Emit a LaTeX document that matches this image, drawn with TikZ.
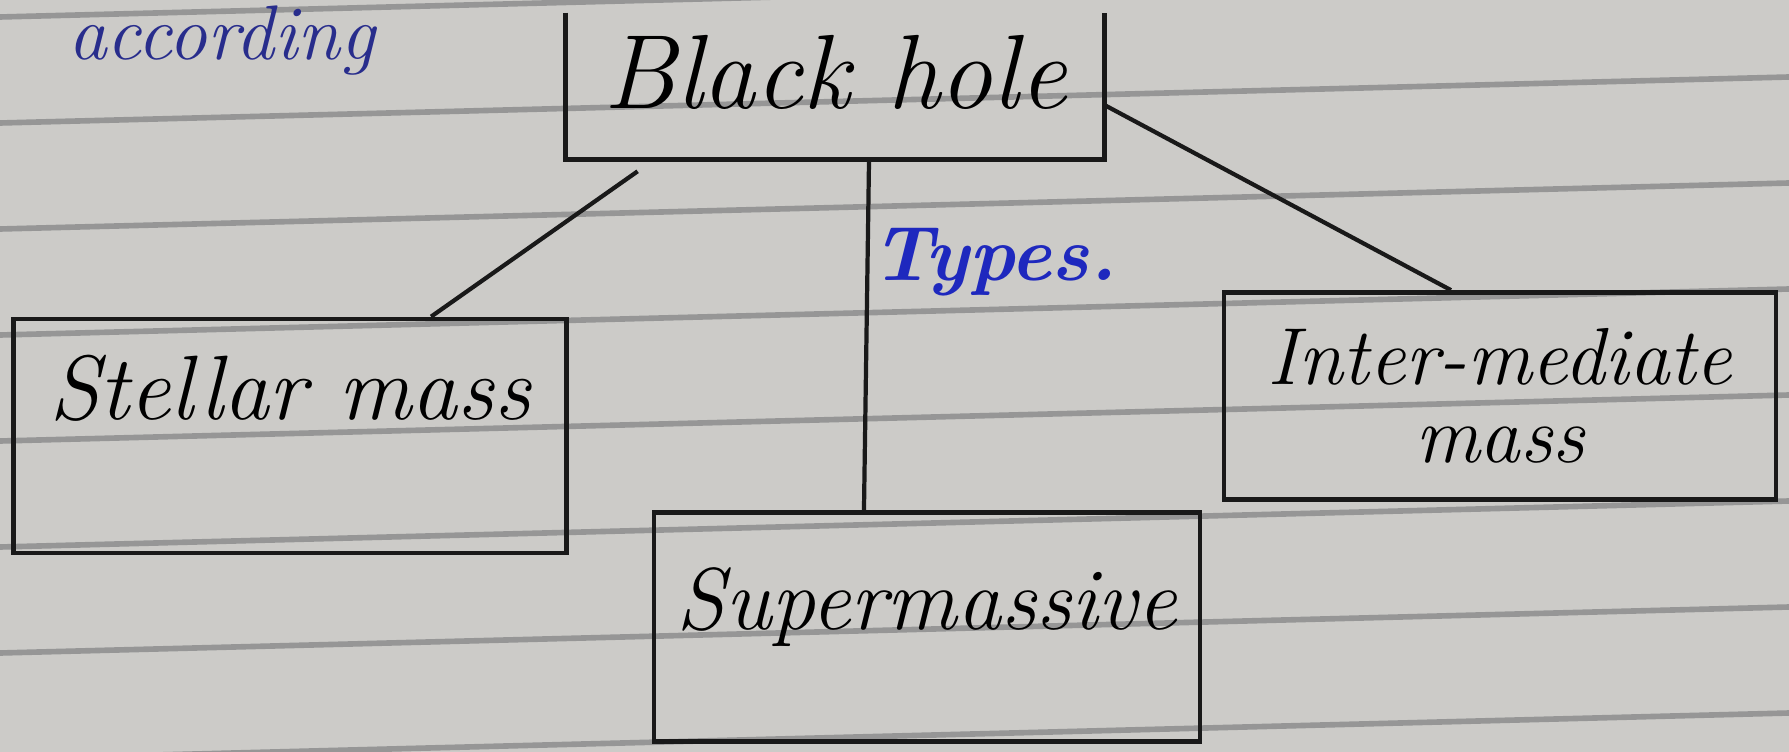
\documentclass[tikz,border=0pt]{standalone}
\usetikzlibrary{positioning}

\definecolor{paper}{RGB}{204,203,200}
\definecolor{rule}{RGB}{150,150,150}
\definecolor{ink}{RGB}{25,25,25}
\definecolor{blueink}{RGB}{30,40,190}
\definecolor{navyink}{RGB}{40,45,140}

\begin{document}
\begin{tikzpicture}[
    x=0.01cm, y=-0.01cm,
    line width=1.3pt,
    box/.style={draw=ink, inner sep=0pt, font=\fontsize{26}{20}\selectfont\itshape, align=center},
    link/.style={draw=ink, line width=1.2pt}
]

% ── Paper and ruled lines ──────────────────────────────────
\useasboundingbox (0,0) rectangle (1789,752);
\fill[paper] (0,0) rectangle (1789,752);
\clip (0,0) rectangle (1789,752);
\foreach \k in {0,...,7}
    \draw[rule, line width=1.6pt] (0,17+106*\k) -- (1789,-29+106*\k);

% ── Top box (open at the top) ──────────────────────────────
\node[box, draw=none, minimum width=5.34cm, text height=0.93cm, text depth=0.49cm,
      font=\fontsize{30}{36}\selectfont\itshape] (blackhole) at (835,86) {Black hole};
\draw[ink] (blackhole.north west) -- (blackhole.south west)
    -- (blackhole.south east) -- (blackhole.north east);

% ── The three types ────────────────────────────────────────
\node[box, minimum width=5.53cm, text height=1.01cm, text depth=1.33cm] (stellar)
    at (290,436) {Stellar mass};
\node[box, minimum width=5.46cm, text height=1.17cm, text depth=1.12cm,
      font=\fontsize{25}{20}\selectfont\itshape] (supermassive)
    at (927,627) {Supermassive};
\node[box, minimum width=5.52cm, minimum height=2.07cm, font=\fontsize{23}{22}\selectfont\itshape]
    (intermediate) at (1500,396) {Inter-mediate\\mass};

% ── Connectors ─────────────────────────────────────────────
\draw[link] ([xshift=0.72cm, yshift=-0.12cm]blackhole.south west) -- ([xshift=1.41cm]stellar.north);
\draw[link] ([xshift=0.34cm]blackhole.south) -- ([xshift=-0.63cm]supermassive.north);
\draw[link] ([yshift=-0.19cm]blackhole.east) -- ([xshift=-0.49cm]intermediate.north);

% ── Blue notes ─────────────────────────────────────────────
\node[blueink, font=\fontsize{22}{26}\selectfont\bfseries\itshape] (types) at (994,262) {Types.};
\node[navyink, anchor=base west, inner sep=0pt, font=\fontsize{22}{26}\selectfont\itshape] (according)
    at (66,60) {according};

\end{tikzpicture}
\end{document}
